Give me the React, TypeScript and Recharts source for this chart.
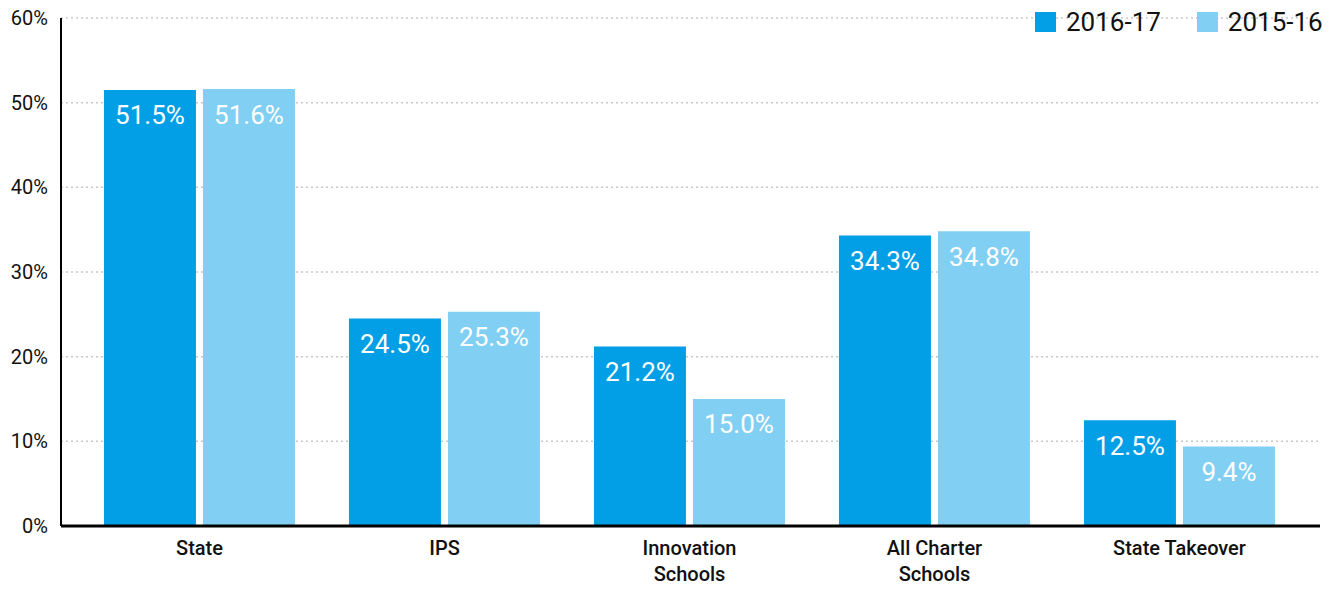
import React from "react";
import { BarChart, Bar, XAxis, YAxis, CartesianGrid, LabelList } from "recharts";

const categories = ["State", "IPS", "Innovation Schools", "All Charter Schools", "State Takeover"];
const series2016 = [51.5, 24.5, 21.2, 34.3, 12.5];
const series2015 = [51.6, 25.3, 15.0, 34.8, 9.4];
const yTicks = [0, 10, 20, 30, 40, 50, 60];
const seriesNames = ["2016-17", "2015-16"];
const colors = ["#039FE6", "#81CFF3"];

const data = categories.map((c, i) => ({ name: c, a: series2016[i], b: series2015[i] }));

const FONT = "Roboto, 'Noto Sans', sans-serif";

const splitLabel = (s: string): string[] => {
  if (s.length <= 15) return [s];
  const idx = s.lastIndexOf(" ");
  return [s.slice(0, idx), s.slice(idx + 1)];
};

const XTick = (props: any) => {
  const { x, y, payload } = props;
  const lines = splitLabel(String(payload.value));
  return (
    <text
      x={x}
      y={y}
      textAnchor="middle"
      fill="#111"
      style={{ fontFamily: FONT, fontSize: 20, fontWeight: 500 }}
    >
      {lines.map((l, i) => (
        <tspan key={i} x={x} dy={i === 0 ? 15 : 26}>
          {l}
        </tspan>
      ))}
    </text>
  );
};

const fmt = (v: any) => `${Number(v).toFixed(1)}%`;

export default function App() {
  return (
    <div style={{ position: "absolute", left: 0, top: 0, width: 1343, height: 589, background: "#fff", fontFamily: FONT }}>
      <BarChart
        width={1343}
        height={589}
        data={data}
        margin={{ top: 18, right: 23, bottom: 0, left: 0 }}
        barCategoryGap="11%"
        barGap={7}
      >
        <CartesianGrid vertical={false} stroke="#c8c8c8" strokeDasharray="2 3" strokeWidth={1.5} />
        <XAxis
          dataKey="name"
          axisLine={{ stroke: "#000", strokeWidth: 3 }}
          tickLine={false}
          tickSize={0}
          tickMargin={14}
          height={63}
          padding={{ left: 16, right: 18 }}
          tick={<XTick />}
          interval={0}
        />
        <YAxis
          domain={[0, 60]}
          ticks={yTicks}
          tickFormatter={(v: number) => `${v}%`}
          axisLine={{ stroke: "#000", strokeWidth: 2 }}
          tickLine={false}
          tickSize={0}
          tickMargin={13}
          width={61}
          tick={{ fill: "#111", fontSize: 20, fontFamily: FONT }}
        />
        <Bar dataKey="a" name={seriesNames[0]} fill={colors[0]} isAnimationActive={false}>
          <LabelList
            dataKey="a"
            position="insideTop"
            offset={16}
            formatter={fmt}
            style={{ fill: "#fff", fontSize: 26, fontFamily: FONT, fontWeight: 400 }}
          />
        </Bar>
        <Bar dataKey="b" name={seriesNames[1]} fill={colors[1]} isAnimationActive={false}>
          <LabelList
            dataKey="b"
            position="insideTop"
            offset={16}
            formatter={fmt}
            style={{ fill: "#fff", fontSize: 26, fontFamily: FONT, fontWeight: 400 }}
          />
        </Bar>
      </BarChart>
      <div style={{ position: "absolute", left: 1035, top: 7, display: "flex", alignItems: "center", fontSize: 26, lineHeight: "30px", color: "#111", fontFamily: FONT }}>
        {seriesNames.map((n, i) => (
          <div key={n} style={{ display: "flex", alignItems: "center", marginRight: i === 0 ? 36 : 0 }}>
            <div style={{ width: 21, height: 20, background: colors[i], marginRight: 10 }} />
            <span>{n}</span>
          </div>
        ))}
      </div>
    </div>
  );
}
